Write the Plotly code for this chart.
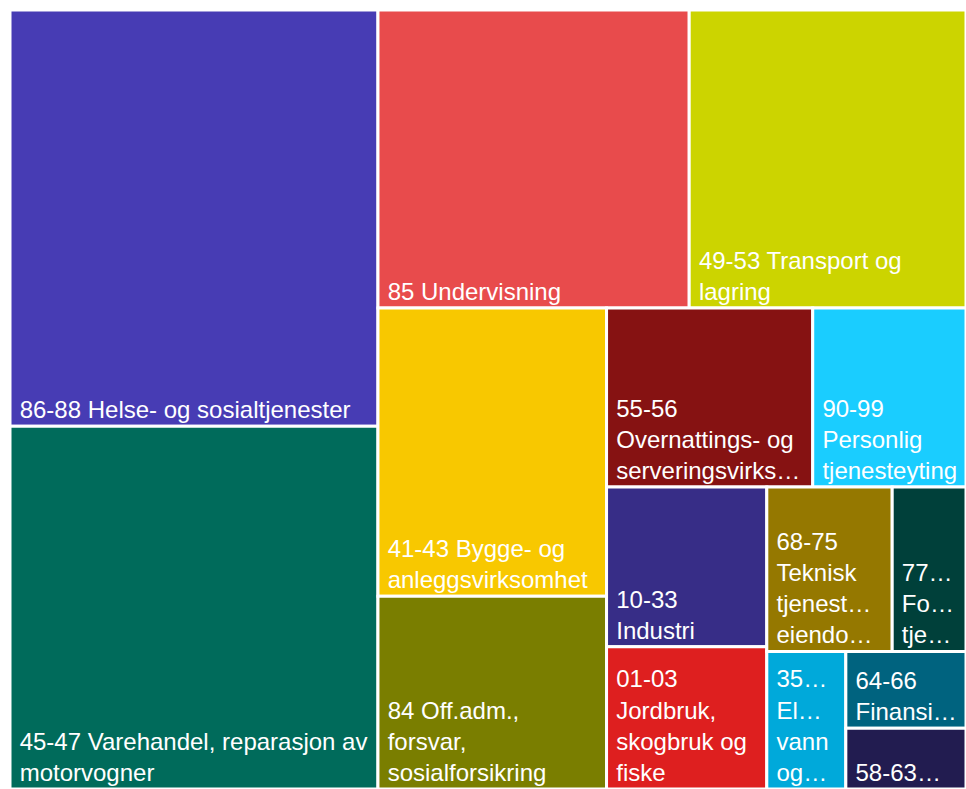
import plotly.graph_objects as go

labels = [
    "86-88 Helse- og sosialtjenester",
    "45-47 Varehandel, reparasjon av motorvogner",
    "85 Undervisning",
    "49-53 Transport og lagring",
    "41-43 Bygge- og anleggsvirksomhet",
    "84 Off.adm., forsvar, sosialforsikring",
    "55-56 Overnattings- og serveringsvirksomhet",
    "90-99 Personlig tjenesteyting",
    "10-33 Industri",
    "01-03 Jordbruk, skogbruk og fiske",
    "68-75 Teknisk tjenesteyting, eiendomsdrift",
    "77-82 Forretningsmessig tjenesteyting",
    "35-39 Elektrisitet, vann og renovasjon",
    "64-66 Finansiering og forsikring",
    "58-63 Informasjon og kommunikasjon",
]

display_lines = [
    ["86-88 Helse- og sosialtjenester"],
    ["45-47 Varehandel, reparasjon av", "motorvogner"],
    ["85 Undervisning"],
    ["49-53 Transport og", "lagring"],
    ["41-43 Bygge- og", "anleggsvirksomhet"],
    ["84 Off.adm.,", "forsvar,", "sosialforsikring"],
    ["55-56", "Overnattings- og", "serveringsvirks…"],
    ["90-99", "Personlig", "tjenesteyting"],
    ["10-33", "Industri"],
    ["01-03", "Jordbruk,", "skogbruk og", "fiske"],
    ["68-75", "Teknisk", "tjenest…", "eiendo…"],
    ["77…", "Fo…", "tje…"],
    ["35…", "El…", "vann", "og…"],
    ["64-66", "Finansi…"],
    ["58-63…"],
]

values = [20.57, 17.92, 12.46, 11.08, 8.84, 5.92, 4.95, 3.68, 3.44, 3.06,
          2.77, 1.63, 1.46, 1.24, 0.98]

colors = [
    "#473CB4", "#006B5B", "#E84B4C", "#CCD400", "#F8C800",
    "#7A7E00", "#861212", "#1ACDFF", "#372D87", "#DE1F1F",
    "#957800", "#00403A", "#00A9DA", "#00637F", "#221C50",
]

# one non-breaking space in front of every line shifts the label block inwards
display_text = ["<br>".join("\u00a0" + ln for ln in lines) for lines in display_lines]

fig = go.Figure(go.Treemap(
    labels=labels,
    parents=[""] * len(labels),
    values=values,
    text=display_text,
    texttemplate="%{text}",
    textposition="bottom left",
    textfont=dict(family="Liberation Sans, Arial, sans-serif", size=24, color="white"),
    marker=dict(colors=colors, line=dict(color="white", width=3),
                pad=dict(t=0, l=0, r=0, b=0)),
    tiling=dict(pad=0, squarifyratio=1.12),
    pathbar=dict(visible=False),
    sort=True,
    hoverinfo="label+value",
))

fig.update_layout(
    height=789,
    margin=dict(l=10, t=10, r=0, b=0),
    paper_bgcolor="white",
    uniformtext=dict(minsize=24, mode="show"),
)

post = (
    "document.body.style.margin='0';"
    "document.documentElement.style.overflow='hidden';"
    "document.body.style.overflow='hidden';"
    "var gd=document.getElementById('{plot_id}');"
    "Plotly.Plots.resize(gd);"
)

fig.write_html("out.html", post_script=post, config={"displayModeBar": False})
